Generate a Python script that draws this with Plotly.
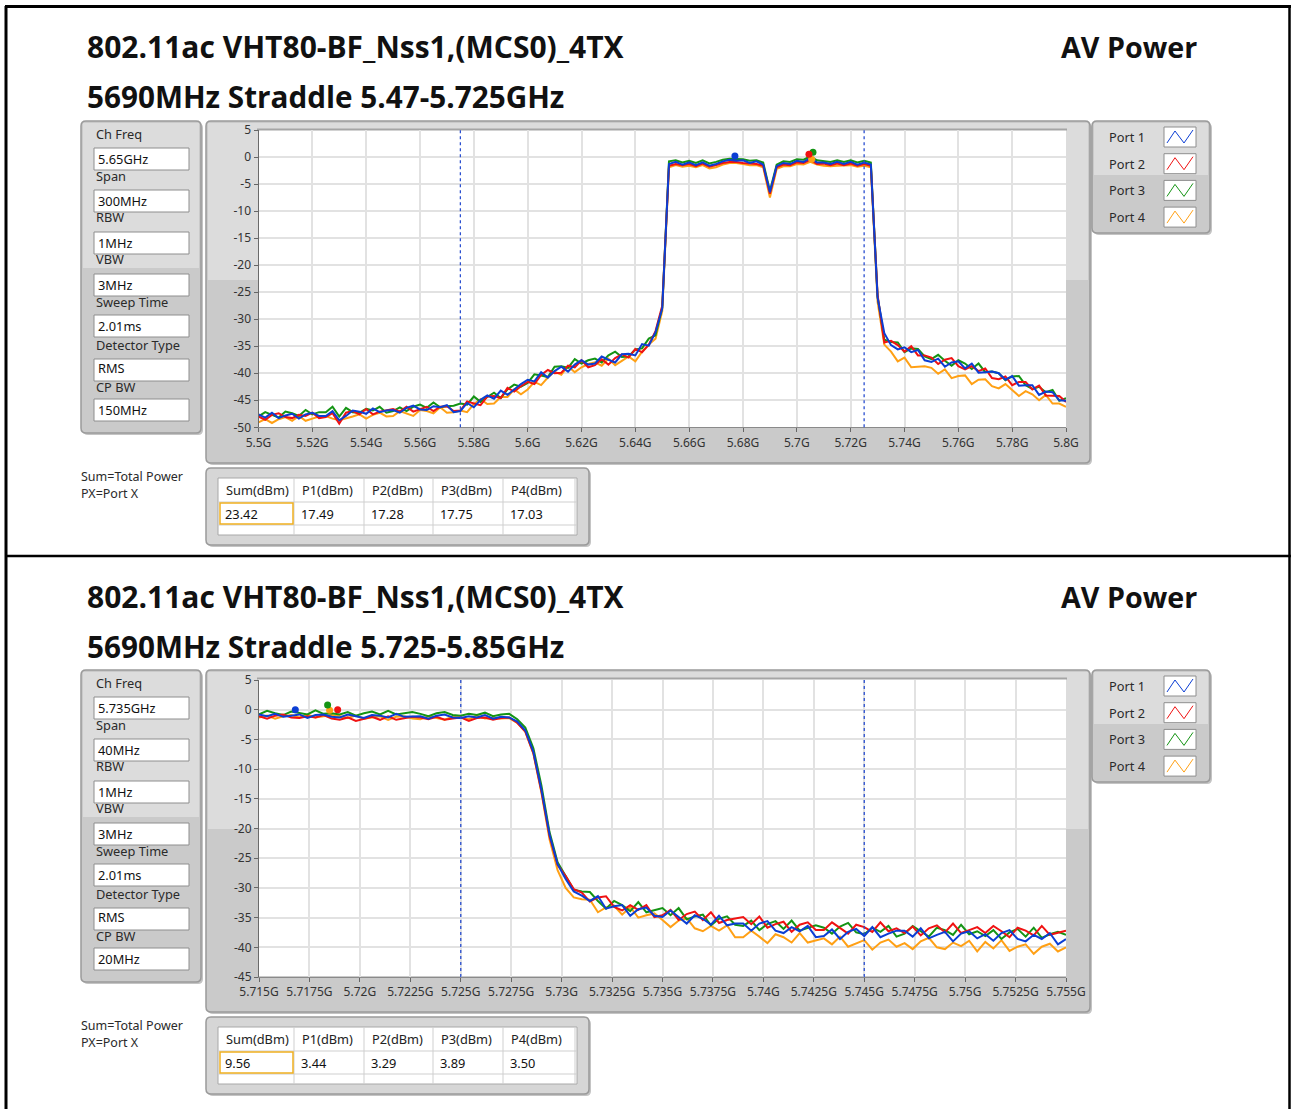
import numpy as np
import plotly.graph_objects as go

W, H = 1292, 1109
DY = 549  # vertical offset of the second panel

PORT_NAMES = ["Port 1", "Port 2", "Port 3", "Port 4"]
PORT_COLORS = ["#0b3ed4", "#f01212", "#149414", "#ffa015"]

# ---- panel 1: 5.47-5.725GHz straddle, 300 MHz span ----
top_freq = np.linspace(5.5, 5.8, 121)
top_p1 = [-47.6, -48.2, -47.3, -48.3, -47.8, -47.5, -48.4, -47.6, -47.3, -47.9,
          -47.9, -47.0, -48.7, -47.9, -46.9, -47.1, -47.5, -46.5, -47.2, -46.9,
          -46.8, -47.3, -46.4, -46.0, -46.7, -46.8, -46.1, -46.3, -45.9, -47.2,
          -47.0, -45.5, -46.3, -44.9, -44.1, -44.7, -43.2, -44.0, -43.0, -42.0,
          -41.2, -41.5, -39.8, -40.8, -39.6, -38.8, -39.7, -38.4, -37.6, -38.4,
          -38.2, -36.9, -37.5, -38.0, -36.5, -36.4, -36.7, -34.6, -34.9, -32.4,
          -28.0, -1.3, -0.9, -1.4, -1.0, -1.5, -1.0, -1.6, -1.3, -0.8,
          -0.5, -0.7, -0.6, -1.1, -0.8, -1.4, -6.5, -1.7, -1.1, -1.3,
          -0.7, -0.9, -0.2, -1.0, -1.0, -1.3, -0.9, -1.3, -0.9, -1.4,
          -1.0, -1.4, -26.0, -32.6, -34.8, -35.6, -35.2, -36.1, -35.7, -37.6,
          -37.9, -37.3, -38.8, -38.0, -37.8, -39.1, -38.2, -39.9, -39.8, -39.7,
          -40.0, -41.2, -40.5, -42.3, -42.2, -42.2, -44.0, -43.4, -43.5, -45.0,
          -45.1]
top_p2 = [-48.0, -48.6, -47.7, -47.4, -48.1, -48.3, -47.7, -47.9, -47.3, -48.3,
          -48.1, -47.4, -49.3, -47.3, -47.0, -47.6, -46.6, -47.6, -47.1, -46.8,
          -46.6, -47.1, -46.2, -47.1, -46.6, -46.2, -47.0, -46.2, -46.1, -47.0,
          -46.9, -45.2, -45.6, -45.9, -44.3, -44.2, -44.6, -42.7, -43.4, -42.4,
          -41.6, -42.0, -40.3, -39.4, -40.0, -39.9, -38.6, -38.9, -37.6, -38.9,
          -38.5, -37.4, -38.4, -37.2, -36.5, -37.1, -35.5, -36.1, -34.7, -32.2,
          -27.5, -1.6, -1.3, -1.5, -1.3, -1.7, -1.2, -1.8, -1.5, -1.1,
          -0.9, -0.9, -1.1, -1.2, -1.3, -1.6, -6.8, -1.9, -1.4, -1.5,
          -1.0, -1.1, -0.5, -1.3, -1.2, -1.5, -1.2, -1.5, -1.2, -1.6,
          -1.3, -1.6, -25.5, -34.3, -34.0, -34.8, -36.0, -35.0, -36.7, -36.7,
          -37.1, -38.3, -37.5, -37.2, -38.7, -39.3, -38.7, -39.6, -39.1, -40.9,
          -41.1, -40.6, -42.2, -41.6, -41.6, -43.0, -42.3, -44.1, -44.1, -44.2,
          -45.3]
top_p3 = [-48.0, -47.2, -47.7, -48.2, -47.1, -47.4, -47.9, -46.8, -47.6, -47.2,
          -47.2, -46.2, -48.0, -46.4, -47.2, -47.3, -46.6, -46.9, -46.2, -47.3,
          -47.0, -46.3, -47.0, -46.2, -45.8, -46.4, -45.4, -46.3, -46.1, -46.0,
          -45.6, -45.8, -44.3, -45.3, -44.4, -43.6, -44.6, -43.0, -42.1, -42.5,
          -41.8, -40.2, -40.4, -40.7, -38.8, -38.7, -39.0, -37.4, -38.2, -37.6,
          -37.3, -38.0, -36.7, -36.0, -37.0, -36.9, -35.6, -35.4, -33.6, -33.0,
          -27.8, -0.8, -0.6, -1.0, -0.7, -1.1, -0.6, -1.2, -0.9, -0.5,
          -0.3, -0.4, -0.4, -0.7, -0.6, -1.0, -6.3, -1.4, -0.8, -0.9,
          -0.4, -0.5, 0.1, -0.6, -0.7, -0.9, -0.6, -0.9, -0.6, -1.0,
          -0.7, -1.0, -25.8, -33.8, -34.2, -34.3, -36.1, -35.4, -35.5, -36.9,
          -37.4, -36.6, -37.7, -38.6, -37.6, -38.2, -39.2, -38.2, -39.8, -39.7,
          -40.0, -41.3, -40.6, -40.5, -42.2, -42.9, -42.5, -43.5, -43.1, -45.1,
          -44.6]
top_p4 = [-49.1, -48.5, -49.2, -48.5, -48.1, -48.8, -47.9, -48.8, -48.4, -48.0,
          -47.9, -48.4, -48.7, -48.4, -48.0, -47.6, -48.4, -47.7, -47.3, -48.0,
          -47.9, -47.0, -47.5, -47.9, -46.8, -47.0, -47.4, -46.3, -47.3, -47.2,
          -46.9, -47.2, -45.7, -44.8, -45.7, -45.6, -44.4, -44.4, -43.0, -43.9,
          -43.0, -41.6, -42.2, -40.8, -39.7, -40.3, -38.7, -39.8, -38.9, -38.3,
          -38.0, -38.6, -37.3, -38.5, -37.7, -36.9, -37.8, -36.0, -34.7, -33.6,
          -28.5, -1.9, -1.5, -1.8, -1.6, -1.9, -1.5, -2.1, -1.9, -1.4,
          -1.1, -1.1, -1.3, -1.5, -1.5, -1.9, -7.5, -2.2, -1.7, -1.7,
          -1.3, -1.4, -0.9, -1.4, -1.6, -1.7, -1.6, -1.5, -1.5, -1.8,
          -1.6, -1.9, -26.8, -34.7, -36.0, -37.8, -37.1, -38.9, -38.8, -38.7,
          -39.0, -40.1, -39.3, -40.9, -40.5, -40.4, -42.0, -41.2, -41.1, -42.4,
          -42.8, -42.0, -43.1, -44.2, -43.3, -43.9, -45.0, -44.0, -45.6, -45.6,
          -46.2]
top_peak_f = [5.677, 5.7045, 5.706, 5.7055]
top_peak_db = [0.2, 0.5, 0.9, -0.4]
top_limits = [5.575, 5.725]
top_xticks = [5.5, 5.52, 5.54, 5.56, 5.58, 5.6, 5.62, 5.64, 5.66, 5.68, 5.7, 5.72, 5.74, 5.76, 5.78, 5.8]
top_xlabels = ["5.5G", "5.52G", "5.54G", "5.56G", "5.58G", "5.6G", "5.62G", "5.64G",
               "5.66G", "5.68G", "5.7G", "5.72G", "5.74G", "5.76G", "5.78G", "5.8G"]
top_yticks = [5, 0, -5, -10, -15, -20, -25, -30, -35, -40, -45, -50]
top_info = ["5.65GHz", "300MHz", "1MHz", "3MHz", "2.01ms", "RMS", "150MHz"]
top_table = ["23.42", "17.49", "17.28", "17.75", "17.03"]

# ---- panel 2: 5.725-5.85GHz straddle, 40 MHz span ----
bot_freq = np.linspace(5.715, 5.755, 101)
bot_p1 = [-0.8, -1.1, -0.7, -1.2, -1.0, -0.8, -1.4, -0.9, -0.8, -1.2,
          -1.3, -0.8, -1.1, -1.4, -0.9, -1.0, -1.3, -0.7, -1.2, -1.1,
          -1.1, -1.5, -1.0, -0.8, -1.3, -1.4, -1.1, -1.3, -0.9, -1.5,
          -1.2, -1.3, -2.0, -3.5, -7.1, -13.5, -21.0, -26.0, -28.5, -30.6,
          -31.3, -32.2, -31.4, -33.5, -33.1, -32.9, -34.7, -33.6, -33.3, -34.7,
          -34.9, -33.8, -34.9, -36.0, -34.6, -35.2, -36.2, -34.7, -36.3, -36.0,
          -36.0, -37.2, -36.0, -35.6, -37.2, -37.6, -36.6, -37.3, -36.4, -38.3,
          -38.1, -37.0, -38.6, -37.4, -36.9, -38.1, -36.6, -38.3, -37.7, -37.2,
          -37.2, -38.2, -36.8, -38.5, -37.9, -37.4, -39.0, -37.7, -37.3, -38.5,
          -37.8, -38.9, -37.6, -37.1, -38.6, -39.0, -37.9, -38.6, -37.6, -39.5,
          -38.6]
bot_p2 = [-1.1, -1.5, -1.0, -0.8, -1.3, -1.4, -1.1, -1.3, -0.9, -1.5,
          -1.7, -1.3, -1.9, -1.5, -1.2, -1.7, -1.1, -1.7, -1.4, -1.2,
          -1.3, -1.6, -1.2, -1.7, -1.5, -1.3, -1.9, -1.4, -1.3, -1.7,
          -1.4, -1.3, -2.2, -3.7, -7.3, -13.8, -21.3, -26.1, -28.0, -30.2,
          -30.8, -32.3, -31.6, -31.4, -33.2, -33.8, -32.9, -33.7, -32.9, -34.9,
          -34.6, -33.7, -35.4, -34.4, -34.0, -35.4, -34.1, -35.9, -35.4, -35.1,
          -34.9, -36.1, -34.8, -36.7, -36.1, -35.7, -37.4, -36.2, -35.8, -37.1,
          -37.1, -35.8, -36.8, -37.7, -36.2, -36.6, -37.4, -35.8, -37.3, -36.8,
          -37.6, -36.5, -38.0, -36.8, -36.3, -37.5, -36.0, -37.6, -37.1, -36.6,
          -37.6, -36.4, -37.3, -38.3, -36.7, -37.2, -38.0, -36.4, -37.9, -37.5,
          -37.2]
bot_p3 = [-0.8, -0.2, -0.6, -0.9, -0.3, -0.5, -0.8, -0.1, -0.7, -0.6,
          -0.8, -0.4, -1.0, -0.6, -0.3, -0.8, -0.2, -0.8, -0.6, -0.4,
          -0.7, -1.1, -0.6, -0.4, -0.9, -1.0, -0.7, -0.9, -0.5, -1.1,
          -0.8, -0.7, -1.6, -3.0, -6.5, -12.8, -20.6, -25.7, -28.0, -30.3,
          -30.6, -30.7, -32.2, -33.5, -32.2, -32.9, -33.9, -32.4, -34.1, -33.8,
          -33.4, -34.6, -33.4, -35.3, -34.8, -34.5, -36.3, -35.2, -34.8, -36.2,
          -36.4, -35.5, -37.1, -36.1, -35.6, -36.9, -35.5, -37.2, -36.7, -36.3,
          -36.7, -37.7, -36.5, -35.9, -37.5, -37.8, -36.7, -37.4, -36.4, -38.2,
          -37.7, -36.4, -37.3, -38.2, -36.7, -37.1, -37.9, -36.2, -37.8, -37.3,
          -38.1, -37.1, -38.6, -37.5, -36.9, -38.2, -36.7, -38.4, -37.8, -37.4,
          -37.9]
bot_p4 = [-1.3, -1.0, -1.5, -1.1, -0.9, -1.3, -0.8, -1.3, -1.1, -0.9,
          -1.1, -1.4, -1.0, -1.5, -1.3, -1.1, -1.7, -1.2, -1.1, -1.5,
          -1.6, -1.1, -1.4, -1.7, -1.2, -1.3, -1.6, -1.0, -1.5, -1.4,
          -1.5, -1.4, -2.2, -3.7, -7.4, -14.0, -21.8, -27.0, -30.0, -31.6,
          -31.9, -32.0, -34.1, -33.3, -33.0, -34.5, -33.2, -35.0, -34.6, -34.3,
          -35.4, -36.6, -35.5, -35.1, -36.8, -37.3, -36.4, -37.2, -36.3, -38.3,
          -38.3, -37.2, -38.2, -39.3, -37.8, -38.3, -39.2, -37.6, -39.2, -38.8,
          -38.5, -39.5, -38.2, -39.9, -39.3, -38.8, -40.4, -39.2, -38.7, -39.9,
          -39.3, -40.3, -39.0, -38.4, -40.0, -40.3, -39.2, -39.8, -38.9, -40.7,
          -39.1, -40.2, -38.8, -40.6, -39.9, -39.5, -41.1, -39.9, -39.4, -40.7,
          -40.0]
bot_peak_f = [5.7168, 5.7189, 5.7184, 5.7185]
bot_peak_db = [0.0, 0.0, 0.8, -0.1]
bot_limits = [5.725, 5.745]
bot_xticks = [5.715, 5.7175, 5.72, 5.7225, 5.725, 5.7275, 5.73, 5.7325, 5.735,
              5.7375, 5.74, 5.7425, 5.745, 5.7475, 5.75, 5.7525, 5.755]
bot_xlabels = ["5.715G", "5.7175G", "5.72G", "5.7225G", "5.725G", "5.7275G", "5.73G", "5.7325G", "5.735G",
               "5.7375G", "5.74G", "5.7425G", "5.745G", "5.7475G", "5.75G", "5.7525G", "5.755G"]
bot_yticks = [5, 0, -5, -10, -15, -20, -25, -30, -35, -40, -45]
bot_info = ["5.735GHz", "40MHz", "1MHz", "3MHz", "2.01ms", "RMS", "20MHz"]
bot_table = ["9.56", "3.44", "3.29", "3.89", "3.50"]

TITLE = "802.11ac VHT80-BF_Nss1,(MCS0)_4TX"
SUBTITLES = ["5690MHz Straddle 5.47-5.725GHz", "5690MHz Straddle 5.725-5.85GHz"]
INFO_LABELS = ["Ch Freq", "Span", "RBW", "VBW", "Sweep Time", "Detector Type", "CP BW"]
TABLE_HEADERS = ["Sum(dBm)", "P1(dBm)", "P2(dBm)", "P3(dBm)", "P4(dBm)"]

UI_FONT = "Noto Sans"
TITLE_FONT = "Open Sans"


def px(x):
    return x / W


def py(y):
    return 1 - y / H


def pt(x, y):
    return f"{px(x):.5f},{py(y):.5f}"


shapes = []
annotations = []


def rrect(x0, y0, x1, y1, fill=None, line=None, r=5, lw=1):
    path = (f"M{pt(x0 + r, y0)} L{pt(x1 - r, y0)} Q{pt(x1, y0)} {pt(x1, y0 + r)} "
            f"L{pt(x1, y1 - r)} Q{pt(x1, y1)} {pt(x1 - r, y1)} L{pt(x0 + r, y1)} "
            f"Q{pt(x0, y1)} {pt(x0, y1 - r)} L{pt(x0, y0 + r)} Q{pt(x0, y0)} {pt(x0 + r, y0)} Z")
    shapes.append(dict(type="path", path=path, xref="paper", yref="paper", layer="below",
                       fillcolor=fill or "rgba(0,0,0,0)",
                       line=dict(color=line or "rgba(0,0,0,0)", width=lw if line else 0)))


def rect(x0, y0, x1, y1, fill=None, line=None, lw=1):
    shapes.append(dict(type="rect", xref="paper", yref="paper", layer="below",
                       x0=px(x0), x1=px(x1), y0=py(y0), y1=py(y1),
                       fillcolor=fill or "rgba(0,0,0,0)",
                       line=dict(color=line or "rgba(0,0,0,0)", width=lw if line else 0)))


def hline(x0, x1, y, color, width=1):
    shapes.append(dict(type="line", xref="paper", yref="paper", layer="below",
                       x0=px(x0), x1=px(x1), y0=py(y), y1=py(y), line=dict(color=color, width=width)))


def vline(x, y0, y1, color, width=1):
    shapes.append(dict(type="line", xref="paper", yref="paper", layer="below",
                       x0=px(x), x1=px(x), y0=py(y0), y1=py(y1), line=dict(color=color, width=width)))


def text(x, y, s, size=12, color="#1e1e1e", anchor="left", bold=False, family=UI_FONT):
    annotations.append(dict(x=px(x), y=py(y), xref="paper", yref="paper", text=f"<b>{s}</b>" if bold else s,
                            showarrow=False, xanchor=anchor, yanchor="middle", borderpad=0,
                            font=dict(family=family, size=size, color=color)))


def gray_box(x0, y0, x1, y1, split):
    rrect(x0 + 2, y0 + 2, x1 + 2, y1 + 2, fill="#c4c4c4")
    rrect(x0, y0, x1, y1, fill="#cacaca")
    rect(x0 + 2, y0 + 2, x1 - 2, split, fill="#dcdcdc")
    rrect(x0, y0, x1, y1, line="#9a9a9a", lw=1.5)


def panel(d, info, table_vals, subtitle):
    # titles
    text(86, 47 + d, TITLE, size=30, color="#111", bold=True, family=TITLE_FONT)
    text(1198, 47 + d, "AV Power", size=28.7, color="#111", anchor="right", bold=True, family=TITLE_FONT)
    text(86, 97 + d, subtitle, size=29.7, color="#111", bold=True, family=TITLE_FONT)

    # settings box
    gray_box(81, 121 + d, 201, 433 + d, 268 + d)
    label_y = [134, 176, 217, 259, 302, 345, 387]
    field_y = [148, 190, 232, 274, 315, 359, 399]
    for k, (lab, ly, fy, val) in enumerate(zip(INFO_LABELS, label_y, field_y, info)):
        rect(94, fy + d, 189, fy + 22 + d, fill="white", line="#8e8e8e")
        text(95, ly + d, lab, size=12.8, color="#2a2a2a")
        vy = fy + 11 + d if k != 5 else fy + 9 + d
        text(97, vy, val, size=12.8, color="#111")

    # graph frame
    gray_box(206, 121 + d, 1090, 463 + d, 280 + d)
    rect(258, 130 + d, 1066, 427 + d, fill="white")
    hline(257, 1067, 129.5 + d, "#a5a5a5", 2)

    # port legend box
    gray_box(1092, 121 + d, 1210, 233 + d, 175 + d)
    for i, (name, col) in enumerate(zip(PORT_NAMES, PORT_COLORS)):
        cy = 137 + 26.7 * i + d
        text(1108, cy, name, size=12.8, color="#2a2a2a")
        rect(1164, cy - 10, 1196, cy + 10, fill="white", line="#8e8e8e")
        zig = f"M{pt(1167, cy + 6)} L{pt(1175, cy - 6)} L{pt(1184, cy + 6)} L{pt(1193, cy - 7)}"
        shapes.append(dict(type="path", path=zig, xref="paper", yref="paper", layer="above",
                           line=dict(color=col, width=1)))

    # notes
    text(80, 476 + d, "Sum=Total Power", size=12.5, color="#2a2a2a")
    text(80, 493 + d, "PX=Port X", size=12.5, color="#2a2a2a")

    # result table
    rrect(208, 470 + d, 591, 547 + d, fill="#c4c4c4")
    rrect(206, 468 + d, 589, 545 + d, fill="#d6d6d6", line="#9a9a9a", lw=1.5)
    rect(218, 478 + d, 577, 535 + d, fill="white", line="#a8a8a8")
    cols = [218, 294, 364, 433, 503, 575]
    for cx in cols[1:]:
        vline(cx, 478 + d, 535 + d, "#cfcfcf")
    hline(218, 577, 502 + d, "#cfcfcf")
    hline(218, 577, 525 + d, "#cfcfcf")
    rect(220, 503 + d, 293, 524 + d, line="#f0b020", lw=1.5)
    for j, (hdr, val) in enumerate(zip(TABLE_HEADERS, table_vals)):
        text(cols[j] + 7, 490 + d, hdr, size=12.8, color="#222")
        text(cols[j] + 6, 514 + d, val, size=12.8, color="#111")


panel(0, top_info, top_table, SUBTITLES[0])
panel(DY, bot_info, bot_table, SUBTITLES[1])

# outer black frame
vline(6, 6, 1109, "#000", 3)
hline(5, 1291, 6.5, "#000", 3)
vline(1289.5, 6, 1109, "#000", 2.5)
hline(5, 1291, 556, "#000", 2.5)

fig = go.Figure()

panels = [
    ("x", "y", top_freq, [top_p1, top_p2, top_p3, top_p4], top_peak_f, top_peak_db, top_limits),
    ("x2", "y2", bot_freq, [bot_p1, bot_p2, bot_p3, bot_p4], bot_peak_f, bot_peak_db, bot_limits),
]
for xa, ya, freq, ports, pk_f, pk_db, limits in panels:
    for i in [3, 2, 1, 0]:
        fig.add_trace(go.Scatter(x=freq, y=ports[i], mode="lines", xaxis=xa, yaxis=ya,
                                 line=dict(color=PORT_COLORS[i], width=2), name=PORT_NAMES[i]))
    for i in [3, 2, 1, 0]:
        fig.add_trace(go.Scatter(x=[pk_f[i]], y=[pk_db[i]], mode="markers", xaxis=xa, yaxis=ya,
                                 marker=dict(color=PORT_COLORS[i], size=7), name=PORT_NAMES[i]))
    for f in limits:
        shapes.append(dict(type="line", xref=xa, yref=f"{ya} domain", x0=f, x1=f, y0=0, y1=1,
                           layer="above", line=dict(color="#2a4fd0", width=1.3, dash="dot")))

tickfont = dict(family=UI_FONT, size=12, color="#333")
common = dict(showgrid=True, gridcolor="#e2e2e2", gridwidth=2, zeroline=False, showline=True,
              linecolor="#8a8a8a", linewidth=1, ticks="outside", ticklen=4, tickcolor="#666",
              tickfont=tickfont, fixedrange=True, tickmode="array", automargin=False)

fig.update_layout(
    width=W, height=H, margin=dict(l=0, r=0, t=0, b=0, pad=0, autoexpand=False),
    paper_bgcolor="white", plot_bgcolor="rgba(0,0,0,0)",
    showlegend=False, hovermode=False,
    shapes=shapes, annotations=annotations,
    xaxis=dict(common, domain=[px(258.5), px(1066)], range=[5.5, 5.8], anchor="y",
               tickvals=top_xticks, ticktext=top_xlabels, tickangle=0),
    yaxis=dict(common, domain=[py(427.3), py(130)], range=[-50, 5], anchor="x",
               tickvals=top_yticks, ticktext=[str(v) for v in top_yticks], linecolor="#6a6a6a"),
    xaxis2=dict(common, domain=[px(259), px(1066)], range=[5.715, 5.755], anchor="y2",
                tickvals=bot_xticks, ticktext=bot_xlabels, tickangle=0),
    yaxis2=dict(common, domain=[py(977), py(680)], range=[-45, 5], anchor="x2",
                tickvals=bot_yticks, ticktext=[str(v) for v in bot_yticks], linecolor="#6a6a6a"),
)

fig.write_html("out.html", config={"displayModeBar": False},
               post_script="document.body.style.margin='0px';")
